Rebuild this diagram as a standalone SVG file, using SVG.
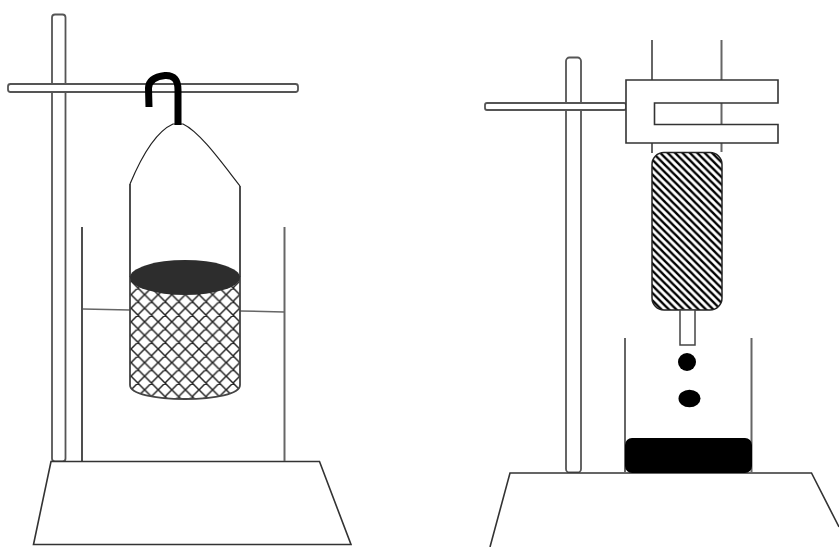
<svg xmlns="http://www.w3.org/2000/svg" width="839" height="547" viewBox="0 0 839 547">
<style>
.g{fill:#fff;stroke:#555;stroke-width:1.8}
.k{fill:none;stroke:#222;stroke-width:1.6}
.m{fill:none;stroke:#666;stroke-width:2}
.b{fill:#fff;stroke:#333;stroke-width:1.600;stroke-linejoin:miter}
</style>
<defs>
<pattern id="cross" width="13.6" height="13.6" patternUnits="userSpaceOnUse" patternTransform="translate(131 281)">
<path d="M-3.4 3.4L3.4 -3.4M0 13.6L13.6 0M10.2 17L17 10.2M-3.4 10.2L3.4 17M0 0L13.6 13.6M10.2 -3.4L17 3.4" stroke="#222" stroke-width="1.500" fill="none"/>
</pattern>
<pattern id="hatch" width="7.4" height="7.4" patternUnits="userSpaceOnUse" patternTransform="translate(652 152)">
<path d="M-3.7 3.7L3.7 11.1M0 0L7.4 7.4M3.7 -3.7L11.1 3.7" stroke="#000" stroke-width="2.400" fill="none"/>
</pattern>
</defs>
<rect width="839" height="547" fill="#fff"/>

<g id="left-stand">
<rect class="g" x="52" y="14.500" width="13.500" height="447" rx="3"/>
<path class="b" d="M51 461.500H319.500L351 544.500H33.500Z"/>
<rect class="g" x="8" y="84" width="290" height="8" rx="2.500"/>
</g>
<g id="left-beaker">
<path class="k" d="M82 227V461"/>
<path class="m" d="M284.500 227V461"/>
<path class="m" style="stroke-width:1.500" d="M83 309L130 310M240 311L284 312"/>
</g>
<g id="left-basket">
<path class="k" style="stroke-width:1.200" d="M130 184C140 160 155 132 173 124H183C200 132 222 163 240 186"/>
<path class="k" d="M130 184V277M240 186V277"/>
<path d="M130 277V385C130 394 155 399 185 399C215 399 240 394 240 385V277Z" fill="url(#cross)" stroke="#444" stroke-width="1.800"/>
<ellipse cx="185" cy="277.500" rx="55" ry="17.500" fill="#2d2d2d"/>
<path d="M149 107L148.500 88C149 80 156 76.500 165 75.500C174 75 178 80 178 90V125" fill="none" stroke="#000" stroke-width="7"/>
</g>

<g id="right-stand">
<rect class="g" x="566" y="57.500" width="15" height="415" rx="3.500"/>
<path class="b" d="M490 547L510 473H811.500L839 527"/>
<rect class="g" x="485" y="103" width="141" height="7" rx="2"/>
</g>
<g id="right-tube">
<path class="m" d="M652 40V80M721.500 40V152M652 143V153"/>
<path class="b" d="M626 80H778V103H654.500V124.500H778V143H626Z"/>
<rect x="652" y="152.500" width="70" height="157.500" rx="12" fill="url(#hatch)" stroke="#222" stroke-width="1.500"/>
<rect x="680" y="310" width="15" height="35" fill="#fff" stroke="#444" stroke-width="1.500"/>
</g>
<g id="right-beaker">
<path class="m" d="M625 338V472M751.500 338V472"/>
<rect x="625" y="438" width="127" height="35" rx="7" fill="#000"/>
<circle cx="687" cy="362" r="9" fill="#000"/>
<ellipse cx="689.500" cy="398.500" rx="11" ry="8.800" fill="#000"/>
</g>
</svg>
